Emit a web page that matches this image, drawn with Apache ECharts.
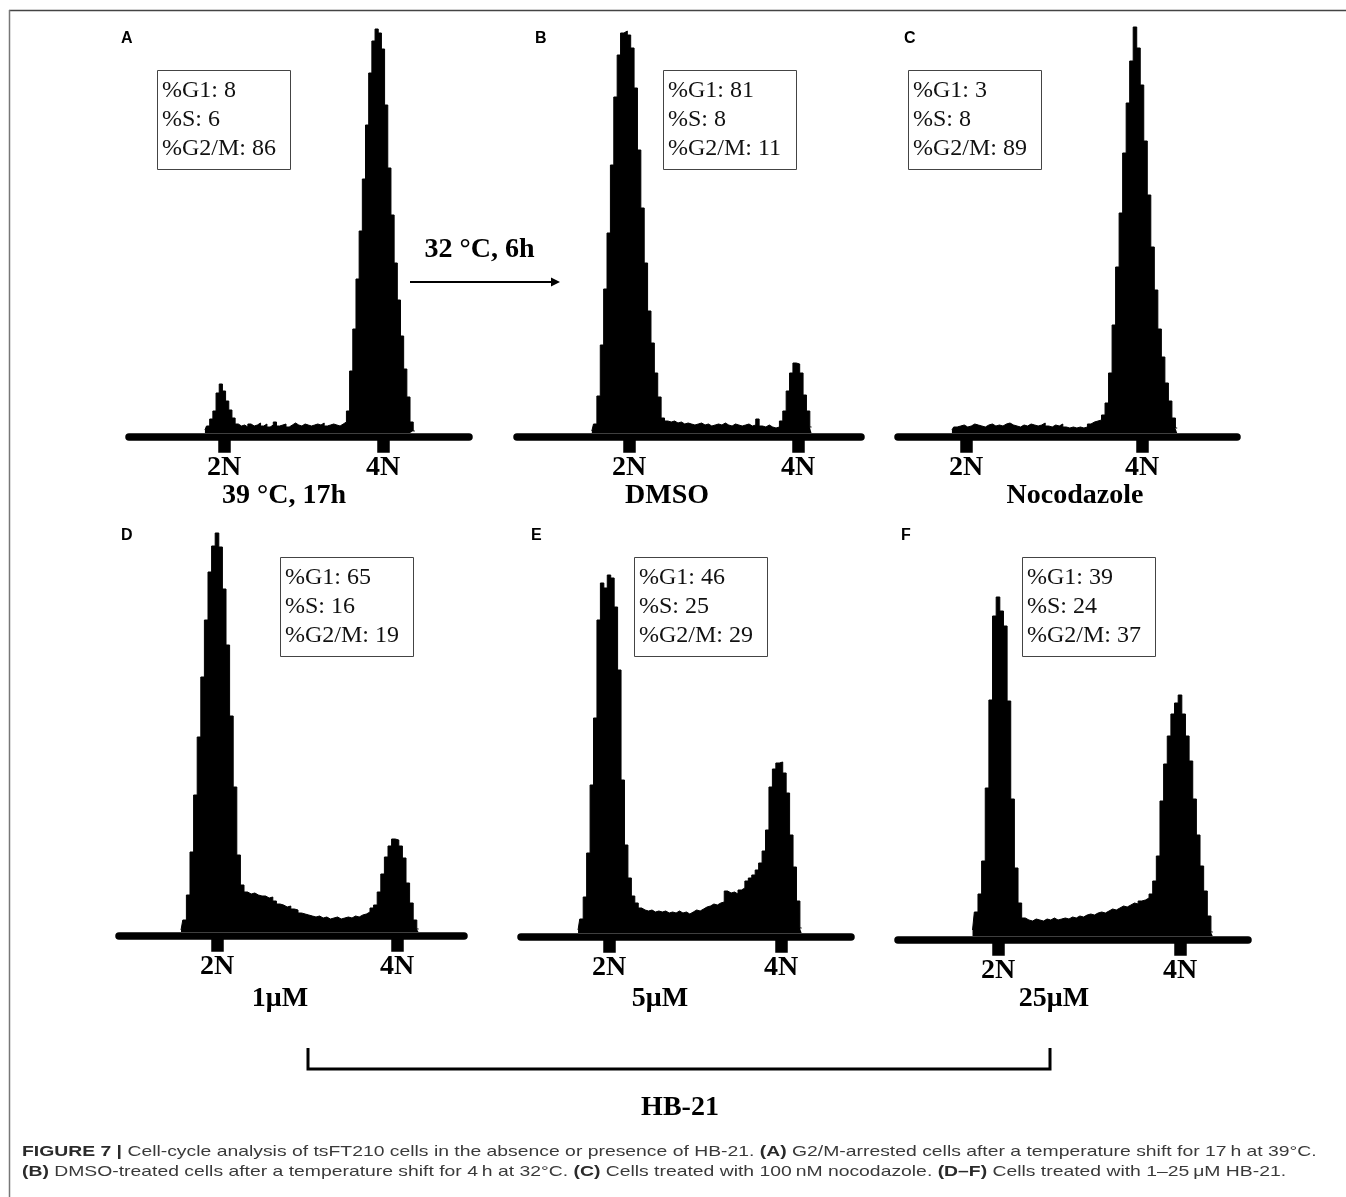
<!DOCTYPE html>
<html><head><meta charset="utf-8">
<script src="https://cdn.jsdelivr.net/npm/echarts@6/dist/echarts.min.js"></script>
<style>html,body{margin:0;padding:0;background:#fff}#c{width:1346px;height:1197px}</style>
</head><body><div id="c"></div>
<script>
// ---------------- DATA ----------------
const panelIds = ['A','B','C','D','E','F'];
const conditionLabels = ['39 °C, 17h','DMSO','Nocodazole','1μM','5μM','25μM'];
const ploidyLabels = ['2N','4N'];
const ploidyChannels = [100, 200];   // DNA-content channel of 2N and 4N
const binWidth = 2;                  // channels per histogram bin
const pctG1  = [8, 81, 3, 65, 46, 39];
const pctS   = [6, 8, 8, 16, 25, 24];
const pctG2M = [86, 11, 89, 19, 29, 37];
const shiftLabel = '32 °C, 6h';
const groupLabel = 'HB-21';

// Histogram counts (first bin channel, then counts per bin)
const startA = 88;
const countsA = [3,7,14,22,40,49,42,32,23,15,9,7,
  8,6,9,7,8,10,7,9,6,8,11,7,8,9,6,8,10,8,7,9,8,7,8,9,8,10,7,8,9,8,7,9,11,
  22,62,104,154,202,254,308,360,392,404,400,384,328,265,218,170,133,97,64,36,11,2];
const startB = 78;
const countsB = [2,9,37,88,144,200,268,336,378,400,402,398,385,345,283,225,170,122,90,60,36,15,
  12,11,12,10,11,9,10,9,8,9,10,8,9,7,8,9,8,10,8,7,9,8,7,8,9,7,8,14,7,6,8,6,5,6,
  12,22,42,60,70,69,60,38,22,6];
const startC = 92;
const countsC = [3,
  6,7,8,6,7,9,8,7,6,8,9,7,8,7,9,10,8,7,6,8,7,9,8,7,8,10,7,6,8,7,9,
  6,5,6,5,6,5,6,
  9,11,12,13,18,
  30,60,108,166,220,280,330,372,406,385,348,292,238,186,143,104,76,50,32,15,5];
const startD = 80;
const countsD = [2,12,37,80,137,195,255,312,360,386,399,385,343,287,216,145,77,47,
  40,38,39,37,36,36,34,35,31,28,27,25,26,23,22,19,18,17,16,15,16,14,15,13,14,15,13,14,15,14,16,15,17,18,20,24,
  27,40,58,75,86,93,92,86,74,49,29,12,3];
const startE = 82;
const countsE = [3,14,36,80,148,215,313,350,345,358,355,326,263,153,88,55,37,
  30,25,23,22,23,21,22,21,22,20,21,20,22,20,21,19,21,23,22,24,
  26,27,29,28,30,31,42,40,41,39,43,45,52,55,58,63,70,82,
  103,146,164,170,171,160,140,98,66,32,5];
const startF = 86;
const countsF = [6,24,42,75,148,236,320,339,325,310,235,137,68,33,18,
  16,15,17,16,15,17,16,18,16,17,18,17,19,18,20,19,21,22,21,23,24,23,25,27,26,28,30,29,31,33,32,35,36,38,42,
  55,80,135,172,200,222,233,241,222,200,175,137,101,70,45,20,4];

const panelData = [
  {start:startA, counts:countsA}, {start:startB, counts:countsB}, {start:startC, counts:countsC},
  {start:startD, counts:countsD}, {start:startE, counts:countsE}, {start:startF, counts:countsF}
];

// ---------------- LAYOUT ----------------
const Y_MAX = 420;
const layout = [
  {L:129, R:469, p2:224, p4:383,  base:433, box:[157,70],  letter:[121,31],  cond:[284,496]},
  {L:517, R:861, p2:629, p4:798,  base:433, box:[663,70],  letter:[535,31],  cond:[667,496]},
  {L:898, R:1237,p2:966, p4:1142, base:433, box:[908,70],  letter:[904,31],  cond:[1075,496]},
  {L:119, R:464, p2:217, p4:397,  base:932, box:[280,557], letter:[121,528], cond:[280,999]},
  {L:521, R:851, p2:609, p4:781,  base:933, box:[634,557], letter:[531,528], cond:[660,999]},
  {L:898, R:1248,p2:998, p4:1180, base:936, box:[1022,557],letter:[901,528], cond:[1054,999]}
];
const SERIF = '"Liberation Serif", "Times New Roman", serif';
const SANS = '"Liberation Sans", Arial, sans-serif';

const grids=[], xAxes=[], yAxes=[], series=[], graphics=[];
panelData.forEach((p,i)=>{
  const g = layout[i];
  const s = (g.p4 - g.p2)/(ploidyChannels[1]-ploidyChannels[0]);
  const xmin = ploidyChannels[0] - (g.p2 - g.L)/s;
  const xmax = ploidyChannels[0] + (g.R - g.p2)/s;
  grids.push({left:g.L, top:g.base - Y_MAX, width:g.R - g.L, height:Y_MAX, containLabel:false});
  xAxes.push({gridIndex:i, type:'value', min:xmin, max:xmax, offset:3.75,
    axisLine:{show:true, onZero:false, lineStyle:{color:'#000', width:7.5}},
    axisTick:{show:true, customValues:ploidyChannels, length:16, lineStyle:{color:'#000', width:12.5}},
    axisLabel:{show:true, customValues:ploidyChannels,
      formatter:(v)=>ploidyLabels[ploidyChannels.indexOf(v)],
      margin:17, color:'#000', fontFamily:SERIF, fontWeight:'bold', fontSize:28},
    splitLine:{show:false}});
  yAxes.push({gridIndex:i, type:'value', min:0, max:Y_MAX, show:false});
  series.push({type:'line', xAxisIndex:i, yAxisIndex:i,
    data:p.counts.map((v,k)=>[p.start + k*binWidth, v]),
    step:'middle', symbol:'none', silent:true, z:1,
    lineStyle:{color:'#000', width:1}, areaStyle:{color:'#000', opacity:1}});

  // panel letter
  graphics.push({type:'text', x:g.letter[0], y:g.letter[1], silent:true,
    style:{text:panelIds[i], font:'bold 16px '+SANS, fill:'#000', align:'left', verticalAlign:'top', textAlign:'left', textVerticalAlign:'top'}});
  // stats box
  graphics.push({type:'rect', silent:true, shape:{x:g.box[0]+0.5, y:g.box[1]+0.5, width:133, height:99},
    style:{fill:'#fff', stroke:'#444', lineWidth:1}, z:10});
  graphics.push({type:'text', x:g.box[0]+5, y:g.box[1]+6.5, silent:true, z:11,
    style:{text:'%G1: '+pctG1[i]+'\n%S: '+pctS[i]+'\n%G2/M: '+pctG2M[i],
      font:'24px '+SERIF, lineHeight:29, fill:'#111', align:'left', verticalAlign:'top', textAlign:'left', textVerticalAlign:'top'}});
  // condition label
  graphics.push({type:'text', x:g.cond[0], y:g.cond[1], silent:true,
    style:{text:conditionLabels[i], font:'bold 28px '+SERIF, fill:'#000', align:'center', verticalAlign:'middle', textAlign:'center', textVerticalAlign:'middle'}});
});

// frame lines
graphics.push({type:'line', silent:true, shape:{x1:9, y1:10.5, x2:1346, y2:10.5}, style:{stroke:'#444', lineWidth:1.5}});
graphics.push({type:'line', silent:true, shape:{x1:9.5, y1:10, x2:9.5, y2:1197}, style:{stroke:'#777', lineWidth:1.5}});
// arrow
graphics.push({type:'line', silent:true, shape:{x1:410, y1:282, x2:553, y2:282}, style:{stroke:'#000', lineWidth:2}});
graphics.push({type:'polygon', silent:true, shape:{points:[[551,277.5],[560,282],[551,286.5]]}, style:{fill:'#000'}});
graphics.push({type:'text', x:479.5, y:250, silent:true,
  style:{text:shiftLabel, font:'bold 28px '+SERIF, fill:'#000', align:'center', verticalAlign:'middle', textAlign:'center', textVerticalAlign:'middle'}});
// bracket
graphics.push({type:'polyline', silent:true, shape:{points:[[308,1048],[308,1069],[1050,1069],[1050,1048]]}, style:{stroke:'#000', lineWidth:3, fill:null}});
graphics.push({type:'text', x:680, y:1108, silent:true,
  style:{text:groupLabel, font:'bold 28px '+SERIF, fill:'#000', align:'center', verticalAlign:'middle', textAlign:'center', textVerticalAlign:'middle'}});
// caption
const cap1 = '{b|FIGURE 7 |} Cell-cycle analysis of tsFT210 cells in the absence or presence of HB-21. {b|(A)} G2/M-arrested cells after a temperature shift for 17\u2009h at 39°C.';
const cap2 = '{b|(B)} DMSO-treated cells after a temperature shift for 4\u2009h at 32°C. {b|(C)} Cells treated with 100\u2009nM nocodazole. {b|(D–F)} Cells treated with 1–25\u2009μM HB-21.';
[[cap1,1152],[cap2,1172]].forEach(([t,y])=>{
  graphics.push({type:'text', x:22, y:y, scaleX:1.29, silent:true,
    style:{text:t, fontSize:15, fontFamily:SANS, fill:'#3a3a3a', align:'left', verticalAlign:'middle', textAlign:'left', textVerticalAlign:'middle',
      rich:{b:{fontSize:15, fontFamily:SANS, fontWeight:'bold', fill:'#2a2a2a'}}}});
});

const chart = echarts.init(document.getElementById('c'), null, {renderer:'canvas'});
chart.setOption({
  animation:false,
  backgroundColor:'#fff',
  grid:grids, xAxis:xAxes, yAxis:yAxes, series:series,
  graphic:{elements:graphics}
});
</script>
</body></html>
